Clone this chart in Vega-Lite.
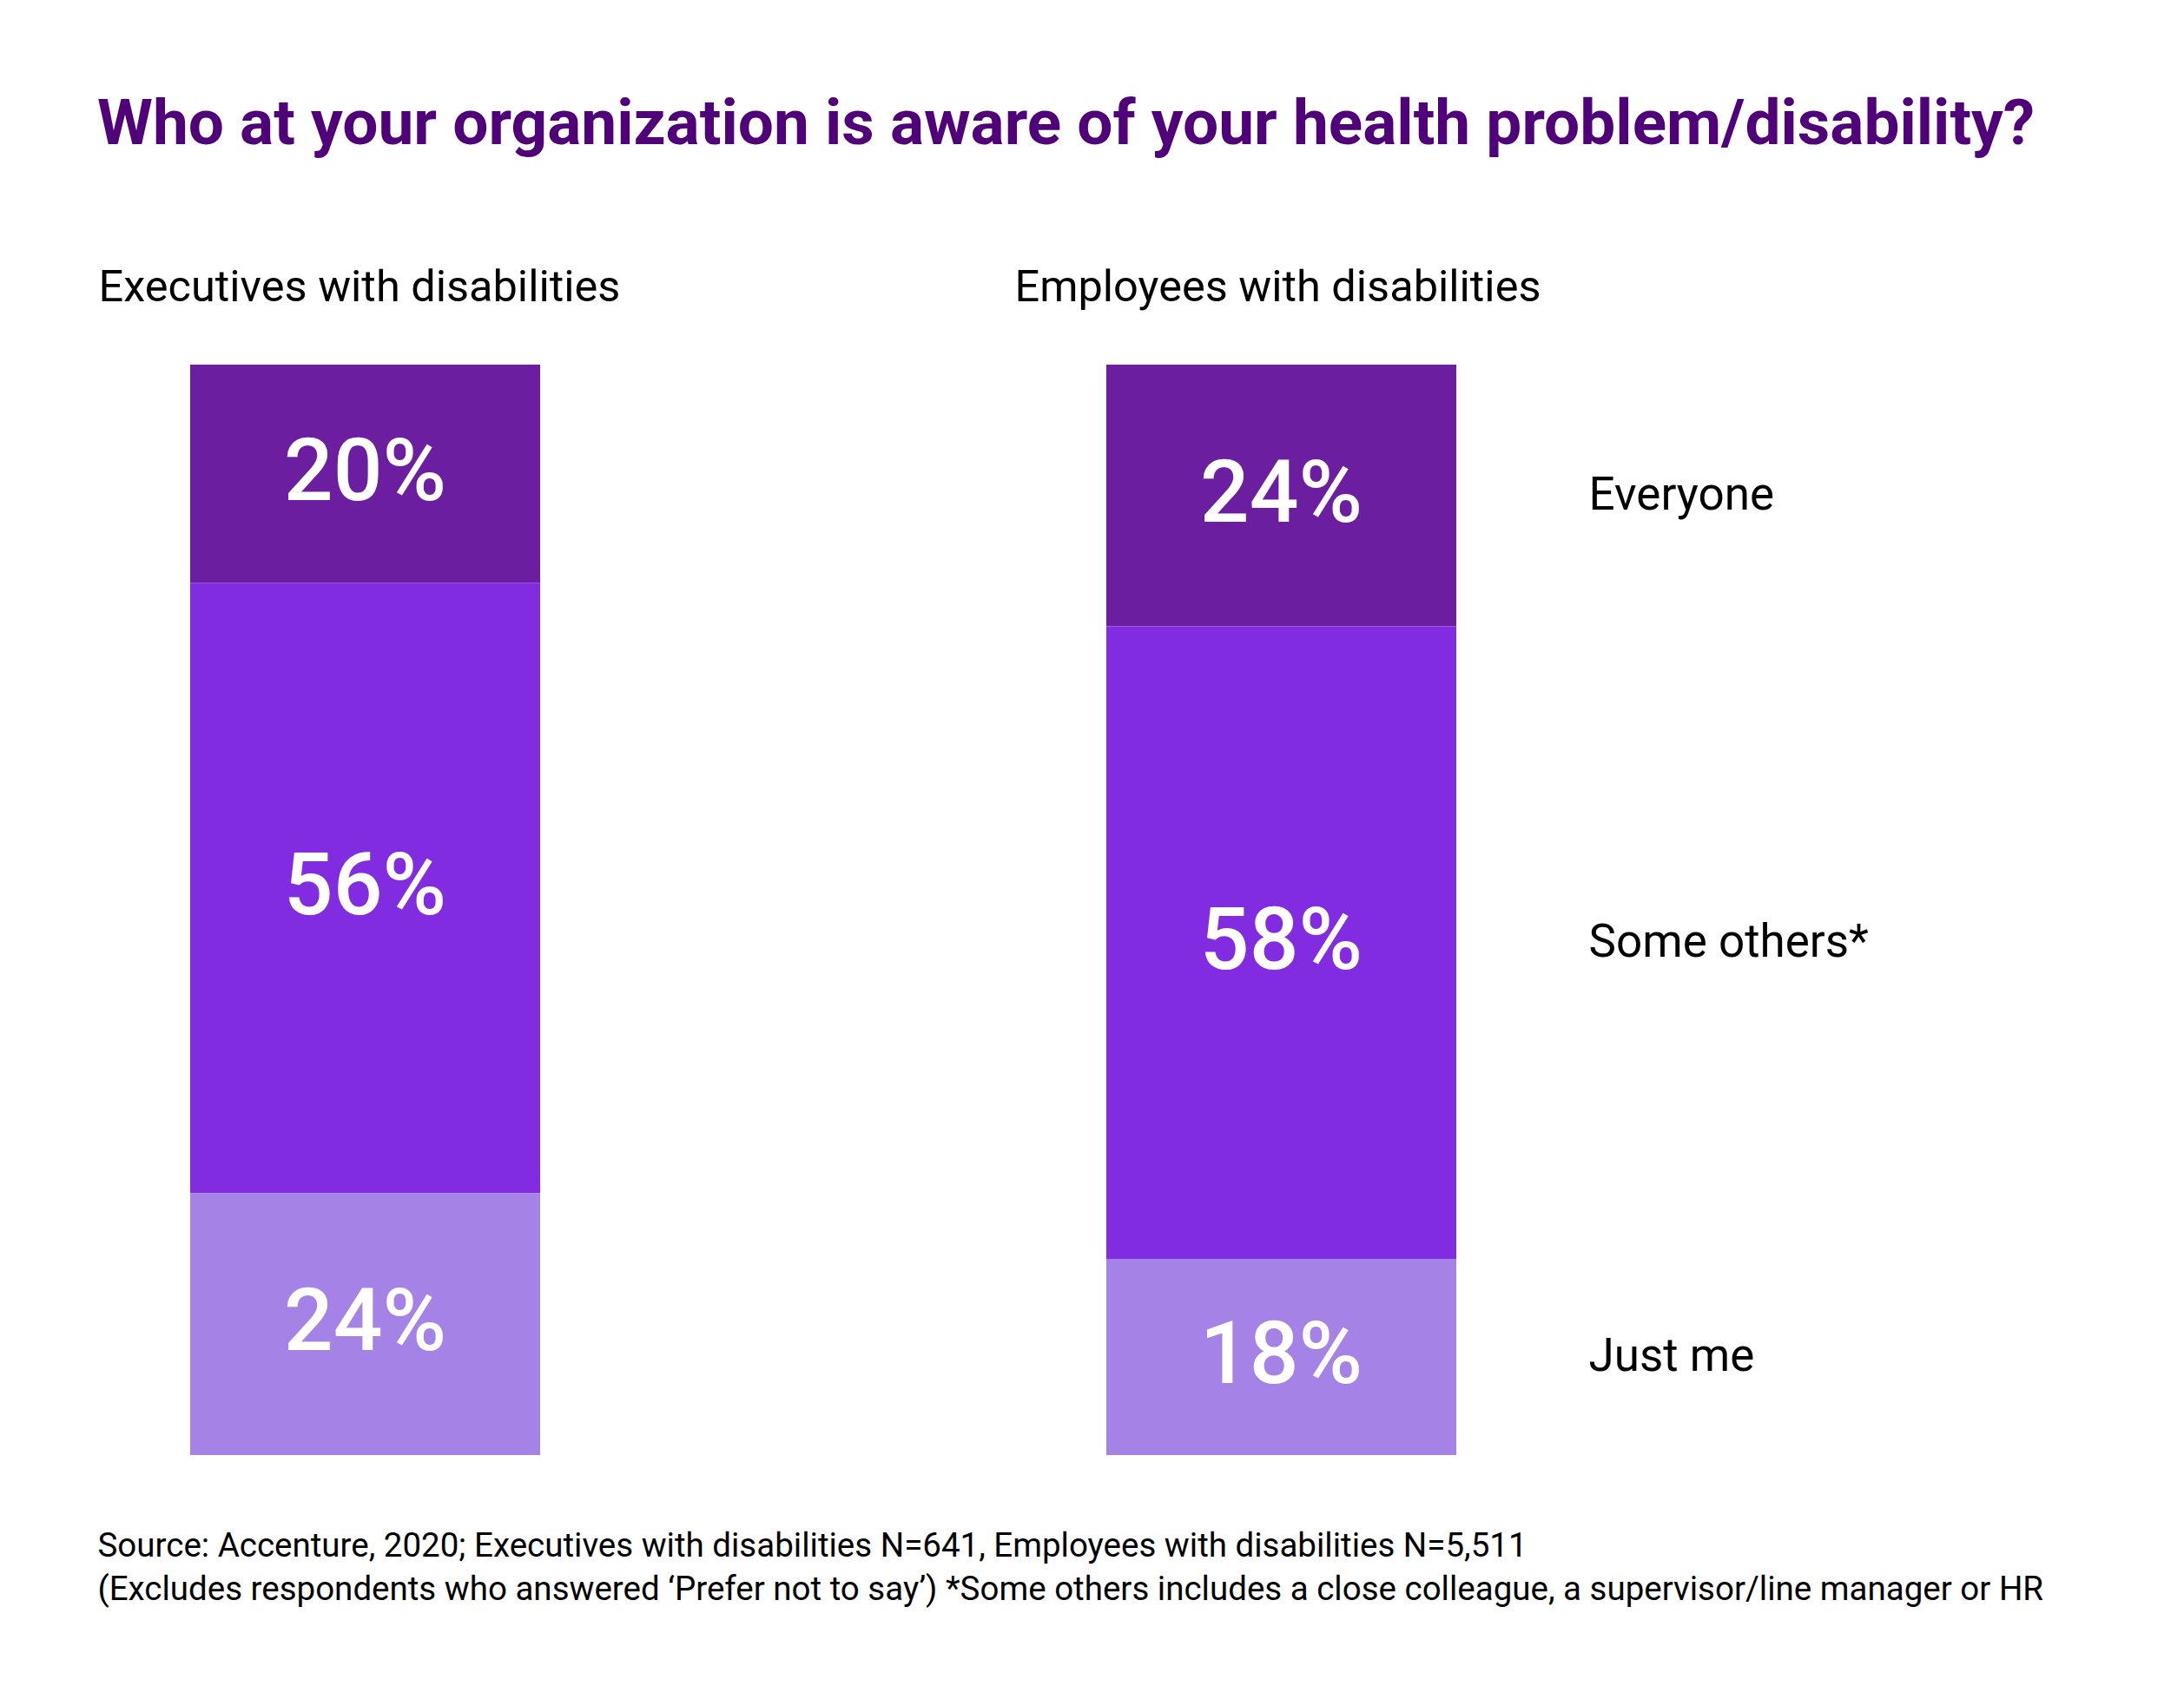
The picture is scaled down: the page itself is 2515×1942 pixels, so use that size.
{
  "$schema": "https://vega.github.io/schema/vega-lite/v6.json",
  "width": 1458,
  "height": 1256,
  "autosize": {"type": "none"},
  "padding": {"left": 219, "top": 420, "right": 838, "bottom": 266},
  "background": "white",
  "title": {
    "text": "Who at your organization is aware of your health problem/disability?",
    "anchor": "start",
    "font": "Roboto",
    "fontSize": 73,
    "fontWeight": "bold",
    "color": "#500078",
    "baseline": "alphabetic",
    "offset": 67
  },
  "data": {
    "values": [
      {"group": "Executives with disabilities", "answer": "Everyone", "pct": 20, "ord": 3},
      {"group": "Executives with disabilities", "answer": "Some others*", "pct": 56, "ord": 2},
      {"group": "Executives with disabilities", "answer": "Just me", "pct": 24, "ord": 1},
      {"group": "Employees with disabilities", "answer": "Everyone", "pct": 24, "ord": 3},
      {"group": "Employees with disabilities", "answer": "Some others*", "pct": 58, "ord": 2},
      {"group": "Employees with disabilities", "answer": "Just me", "pct": 18, "ord": 1}
    ]
  },
  "transform": [
    {"stack": "pct", "groupby": ["group"], "sort": [{"field": "ord", "order": "ascending"}], "as": ["y0", "y1"]},
    {"calculate": "(datum.y0 + datum.y1) / 2", "as": "ymid"},
    {"calculate": "datum.pct + '%'", "as": "label"}
  ],
  "layer": [
    {
      "mark": {"type": "bar"},
      "encoding": {
        "x": {
          "field": "group",
          "type": "nominal",
          "sort": ["Executives with disabilities", "Employees with disabilities"],
          "scale": {"paddingInner": 0.618, "paddingOuter": 0},
          "axis": {
            "orient": "top",
            "domain": false,
            "ticks": false,
            "tickSize": 0,
            "grid": false,
            "labelPadding": 74,
            "labelBaseline": "alphabetic",
            "labelAlign": "left",
            "labelAngle": 0,
            "labelOffset": -307,
            "labelFont": "Roboto",
            "labelFontSize": 50.5,
            "labelColor": "#000000",
            "labelLimit": 2000,
            "title": null
          }
        },
        "y": {"field": "y0", "type": "quantitative", "scale": {"domain": [0, 100], "nice": false}, "axis": null},
        "y2": {"field": "y1"},
        "color": {
          "field": "answer",
          "type": "nominal",
          "scale": {"domain": ["Everyone", "Some others*", "Just me"], "range": ["#6b1fa0", "#812ce0", "#a582e6"]},
          "legend": null
        }
      }
    },
    {
      "mark": {"type": "text", "font": "Roboto", "fontSize": 100, "fontWeight": 500, "color": "#ffffff", "align": "center", "baseline": "middle"},
      "encoding": {
        "x": {
          "field": "group",
          "type": "nominal",
          "sort": ["Executives with disabilities", "Employees with disabilities"],
          "axis": {
            "orient": "bottom",
            "domain": false,
            "ticks": false,
            "labels": false,
            "grid": false,
            "title": [
              "Source: Accenture, 2020; Executives with disabilities N=641, Employees with disabilities N=5,511",
              "(Excludes respondents who answered ‘Prefer not to say’) *Some others includes a close colleague, a supervisor/line manager or HR"
            ],
            "titleAnchor": "start",
            "titleAlign": "left",
            "titleX": -107,
            "titleY": 116,
            "titleBaseline": "alphabetic",
            "titleFont": "Roboto",
            "titleFontSize": 38.5,
            "titleFontWeight": "normal",
            "titleColor": "#000000",
            "titleLineHeight": 50,
            "titleLimit": 3000
          }
        },
        "y": {"field": "ymid", "type": "quantitative", "scale": {"domain": [0, 100], "nice": false}, "axis": null},
        "text": {"field": "label"}
      }
    },
    {
      "transform": [{"filter": "datum.group === 'Employees with disabilities'"}],
      "mark": {"type": "text", "font": "Roboto", "fontSize": 53, "color": "#000000", "align": "left", "baseline": "middle", "dx": 354},
      "encoding": {
        "x": {
          "field": "group",
          "type": "nominal",
          "sort": ["Executives with disabilities", "Employees with disabilities"],
          "axis": null
        },
        "y": {"field": "ymid", "type": "quantitative", "scale": {"domain": [0, 100], "nice": false}, "axis": null},
        "text": {"field": "answer"}
      }
    }
  ],
  "resolve": {"axis": {"x": "independent"}},
  "config": {"view": {"stroke": null}}
}
